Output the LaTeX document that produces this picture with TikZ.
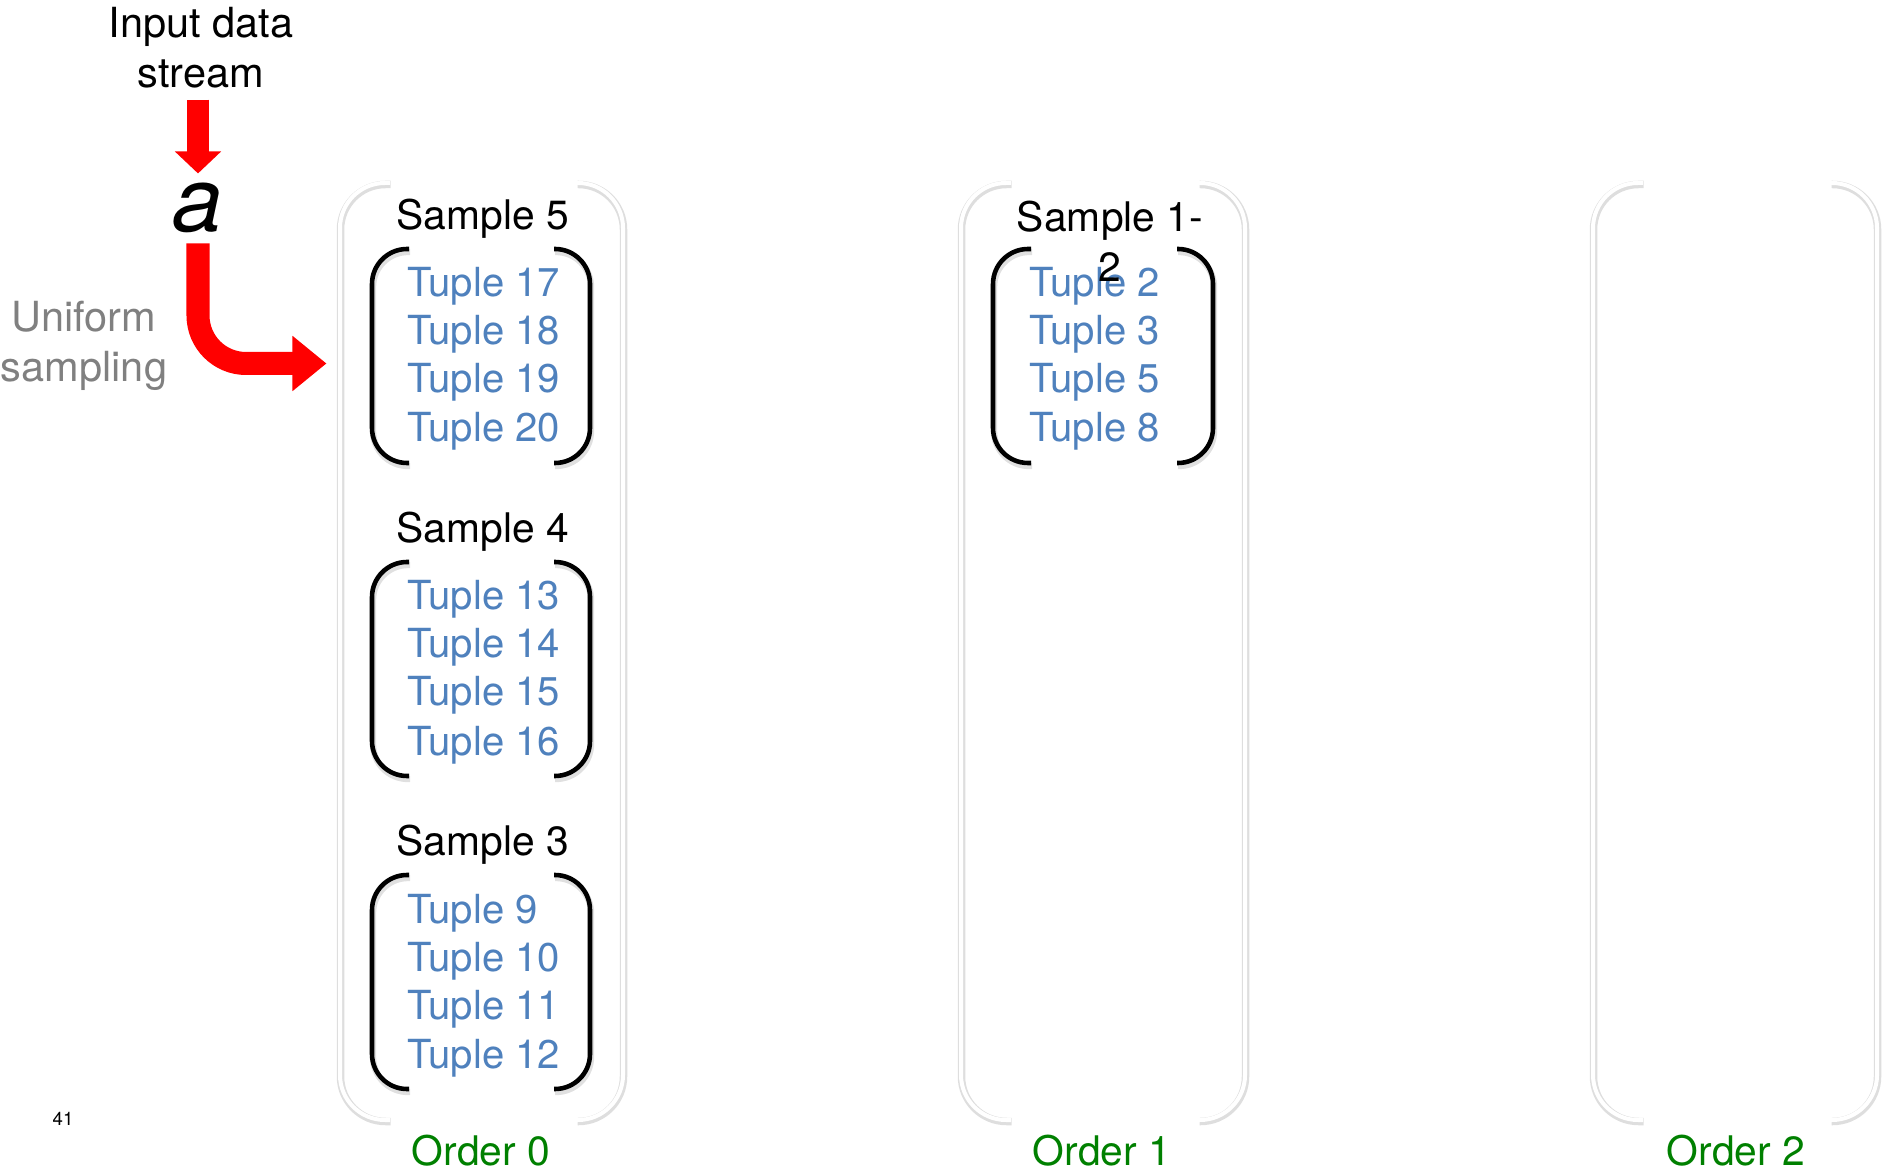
\documentclass[tikz,border=0pt]{standalone}
\usepackage{fontspec}
\setmainfont{TeX Gyre Heros}
\usetikzlibrary{arrows.meta}

\definecolor{tupleblue}{RGB}{79,129,189}
\definecolor{ordergreen}{RGB}{0,128,0}
\definecolor{notegray}{RGB}{128,128,128}

\tikzstyle{title}=[inner sep=0pt, anchor=base, font=\fontsize{11.6}{14.2}\selectfont]
\tikzstyle{tuple}=[inner sep=0pt, anchor=base west, text=tupleblue, font=\fontsize{11.4}{13.7}\selectfont]
\tikzstyle{order}=[inner sep=0pt, anchor=base, text=ordergreen, font=\fontsize{11.6}{14}\selectfont]
\tikzstyle{note}=[inner sep=0pt, align=center, font=\fontsize{11.8}{14.2}\selectfont]
\tikzstyle{letter}=[inner sep=0pt, outer sep=0.1cm, anchor=base, font=\fontsize{25.6}{30}\selectfont\itshape]
\tikzstyle{paren}=[line width=1.3pt, rounded corners=0.35cm]
\tikzstyle{parenshadow}=[draw=black!12, line width=1.8pt, rounded corners=0.35cm, shift={(1,3)}]
\tikzstyle{rail}=[draw=white, line width=0.04cm, rounded corners=0.45cm]
\tikzstyle{railshadow}=[draw=black!13, line width=0.075cm, rounded corners=0.45cm, shift={(0.5,1.5)}]
\tikzstyle{feed}=[red, line width=0.225cm, -{Triangle[length=0.22cm, width=0.45cm]}]
\tikzstyle{sampling}=[red, line width=0.23cm, rounded corners=0.48cm, -{Triangle[length=0.34cm, width=0.53cm]}]

\begin{document}
\begin{tikzpicture}[x=0.01cm, y=-0.01cm]
    \useasboundingbox (0,0) rectangle (1883,1174);

    % incoming tuple
    \node[note] (stream) at (201,47.5) {Input data\\stream};
    \node[letter] (a) at (198,232) {a};
    \node[note, text=notegray] (uniform) at (84,346) {Uniform\\sampling};
    \coordinate (drop) at (326.5,363.5);
    \draw[feed, shorten <=0.11cm] (stream.south -| a.north) -- (a.north);
    \draw[sampling] (a.south) |- (drop);

    % the three order columns
    \foreach \l/\r in {340/623, 961/1245, 1593/1877} {
        \draw[railshadow] (\l+50,183) -- (\l,183) -- (\l,1120) -- (\l+50,1120);
        \draw[railshadow] (\r-46,183) -- (\r,183) -- (\r,1120) -- (\r-46,1120);
        \draw[rail] (\l+50,183) -- (\l,183) -- (\l,1120) -- (\l+50,1120);
        \draw[rail] (\r-46,183) -- (\r,183) -- (\r,1120) -- (\r-46,1120);
    }
    \node[order] (order0) at (481,1165) {Order 0};
    \node[order] (order1) at (1102,1165) {Order 1};
    \node[order] (order2) at (1736,1165) {Order 2};

    % order 0 samples
    \foreach \yy/\s/\ta/\tb/\tc/\td in {249/5/17/18/19/20, 562/4/13/14/15/16, 875/3/9/10/11/12} {
        \draw[parenshadow] (409,\yy) -- (372,\yy) -- (372,\yy+214) -- (409,\yy+214);
        \draw[parenshadow] (554,\yy) -- (590,\yy) -- (590,\yy+214) -- (554,\yy+214);
        \draw[paren] (409,\yy) -- (372,\yy) -- (372,\yy+214) -- (409,\yy+214);
        \draw[paren] (554,\yy) -- (590,\yy) -- (590,\yy+214) -- (554,\yy+214);
        \node[title] (sample\s) at (483,\yy-19) {Sample \s};
        \node[tuple] (tuple\ta) at (407,\yy+48) {Tuple \ta};
        \node[tuple] (tuple\tb) at (407,\yy+96) {Tuple \tb};
        \node[tuple] (tuple\tc) at (407,\yy+144) {Tuple \tc};
        \node[tuple] (tuple\td) at (407,\yy+193) {Tuple \td};
    }

    % order 1 sample
    \draw[parenshadow] (1031,249) -- (993,249) -- (993,463) -- (1031,463);
    \draw[parenshadow] (1177,249) -- (1213,249) -- (1213,463) -- (1177,463);
    \draw[paren] (1031,249) -- (993,249) -- (993,463) -- (1031,463);
    \draw[paren] (1177,249) -- (1213,249) -- (1213,463) -- (1177,463);
    \node[tuple] (tuple2) at (1029,297) {Tuple 2};
    \node[tuple] (tuple3) at (1029,345) {Tuple 3};
    \node[tuple] (tuple5) at (1029,393) {Tuple 5};
    \node[tuple] (tuple8) at (1029,442) {Tuple 8};
    \node[title, align=center, anchor=north] (sample12) at (1110,200) {Sample 1-\\2};

    \node[inner sep=0pt, anchor=base, font=\fontsize{5.3}{6}\selectfont] (page) at (63,1125) {41};
\end{tikzpicture}
\end{document}
